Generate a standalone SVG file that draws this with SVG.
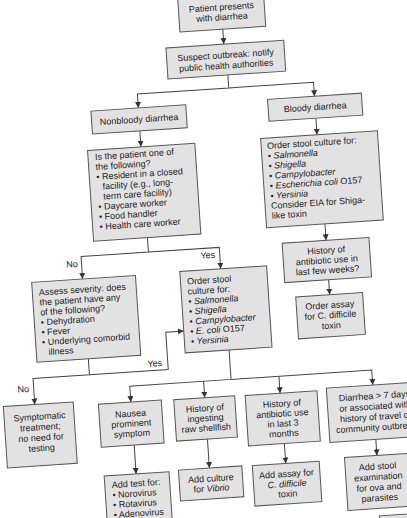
<svg xmlns="http://www.w3.org/2000/svg" width="407" height="518" viewBox="0 0 407 518">
<defs>
<style>
.box{fill:#e2e2e2;stroke:#555;stroke-width:1}
.t{font-family:'Liberation Sans',Arial,sans-serif;font-size:9px;fill:#222}
.c{text-anchor:middle}
.i{font-style:italic}
.conn path{fill:none;stroke:#444;stroke-width:1}
.arr{marker-end:url(#ah)}
</style>
<marker id="ah" markerWidth="6" markerHeight="6" refX="6" refY="3" orient="auto" markerUnits="userSpaceOnUse">
<path d="M0,0 L6,3 L0,6 z" fill="#333"/>
</marker>
</defs>
<rect x="0" y="0" width="407" height="518" fill="#fff"/>
<g transform="rotate(-3.8 203 259)">
<g class="conn">
<path class="arr" d="M238,31 V46"/>
<path class="arr" d="M240,77 V90 H148.5 V104"/>
<path class="arr" d="M240,90 H325 V104"/>
<path class="arr" d="M325,126 V142.5"/>
<path class="arr" d="M327,232 V248.5"/>
<path class="arr" d="M327,288 V303"/>
<path class="arr" d="M148.5,127 V143"/>
<path class="arr" d="M149,234 V248.5 H81.5 V271"/>
<path class="arr" d="M149,248.5 H220 V270"/>
<path class="arr" d="M82,351 V367 H25.5 V393"/>
<path class="arr" d="M82,367 H161 V329.5 H179"/>
<path class="arr" d="M223,351.5 V381 H121.5 V397"/>
<path class="arr" d="M223,381 H364 V396"/>
<path class="arr" d="M195.5,381 V397.5"/>
<path class="arr" d="M271,381 V398"/>
<path class="arr" d="M122,440 V469"/>
<path class="arr" d="M195.5,439 V468"/>
<path class="arr" d="M272,448.5 V468.5"/>
<path class="arr" d="M363.5,450.5 V466.5"/>
</g>
<g class="t c">
<text x="72" y="258.5">No</text>
<text x="208" y="258.5">Yes</text>
<text x="15" y="380">No</text>
<text x="148" y="363">Yes</text>
</g>
<g id="patient">
<rect class="box" x="195" y="-6" width="86" height="37"/>
<text class="t c" x="238" y="12">Patient presents</text>
<text class="t c" x="238" y="22">with diarrhea</text>
</g>
<g id="outbreak">
<rect class="box" x="180" y="46" width="118" height="31"/>
<text class="t c" x="239" y="60">Suspect outbreak: notify</text>
<text class="t c" x="239" y="70.5">public health authorities</text>
</g>
<g id="nonbloody">
<rect class="box" x="101" y="104" width="95" height="23"/>
<text class="t c" x="148.5" y="118.5">Nonbloody diarrhea</text>
</g>
<g id="bloody">
<rect class="box" x="278" y="104" width="94" height="22"/>
<text class="t c" x="325" y="118">Bloody diarrhea</text>
</g>
<g id="ispatient">
<rect class="box" x="95" y="143" width="107.5" height="91"/>
<text class="t" x="102" y="153">Is the patient one of</text>
<text class="t" x="102" y="163">the following?</text>
<text class="t" x="102" y="173">• Resident in a closed</text>
<text class="t" x="107.7" y="183">facility (e.g., long-</text>
<text class="t" x="107.7" y="193">term care facility)</text>
<text class="t" x="102" y="203">• Daycare worker</text>
<text class="t" x="102" y="213">• Food handler</text>
<text class="t" x="102" y="223">• Health care worker</text>
</g>
<g id="bloodyculture">
<rect class="box" x="268.5" y="142.5" width="117" height="89.5"/>
<text class="t" x="274.5" y="153.5">Order stool culture for:</text>
<text class="t" x="274.5" y="163.5">• <tspan class="i">Salmonella</tspan></text>
<text class="t" x="274.5" y="173.5">• <tspan class="i">Shigella</tspan></text>
<text class="t" x="274.5" y="183.5">• <tspan class="i">Campylobacter</tspan></text>
<text class="t" x="274.5" y="193.5">• <tspan class="i">Escherichia coli</tspan> O157</text>
<text class="t" x="274.5" y="203.5">• <tspan class="i">Yersinia</tspan></text>
<text class="t" x="274.5" y="213.5">Consider EIA for Shiga-</text>
<text class="t" x="274.5" y="223.5">like toxin</text>
</g>
<g id="fewweeks">
<rect class="box" x="283" y="248.5" width="87" height="39.5"/>
<text class="t c" x="326.5" y="261.5">History of</text>
<text class="t c" x="326.5" y="271.5">antibiotic use in</text>
<text class="t c" x="326.5" y="281.5">last few weeks?</text>
</g>
<g id="orderassay">
<rect class="box" x="293" y="303" width="67" height="42"/>
<text class="t c" x="326.5" y="316.5">Order assay</text>
<text class="t c" x="326.5" y="326.5">for C. difficile</text>
<text class="t c" x="326.5" y="337">toxin</text>
</g>
<g id="assess">
<rect class="box" x="30.5" y="271" width="104" height="80"/>
<text class="t" x="37" y="284.5">Assess severity: does</text>
<text class="t" x="37" y="294.5">the patient have any</text>
<text class="t" x="37" y="304.5">of the following?</text>
<text class="t" x="37" y="314.5">• Dehydration</text>
<text class="t" x="37" y="324.5">• Fever</text>
<text class="t" x="37" y="334.5">• Underlying comorbid</text>
<text class="t" x="42.7" y="344.5">illness</text>
</g>
<g id="midculture">
<rect class="box" x="179" y="270" width="87" height="81.5"/>
<text class="t" x="185.5" y="283.5">Order stool</text>
<text class="t" x="185.5" y="293.5">culture for:</text>
<text class="t" x="185.5" y="303.5">• <tspan class="i">Salmonella</tspan></text>
<text class="t" x="185.5" y="313.5">• <tspan class="i">Shigella</tspan></text>
<text class="t" x="185.5" y="323.5">• <tspan class="i">Campylobacter</tspan></text>
<text class="t" x="185.5" y="333.5">• <tspan class="i">E. coli</tspan> O157</text>
<text class="t" x="185.5" y="343.5">• <tspan class="i">Yersinia</tspan></text>
</g>
<g id="symptomatic">
<rect class="box" x="-6" y="393" width="70" height="61.5"/>
<text class="t c" x="29.5" y="408.5">Symptomatic</text>
<text class="t c" x="29.5" y="419">treatment;</text>
<text class="t c" x="29.5" y="429.5">no need for</text>
<text class="t c" x="29.5" y="440">testing</text>
</g>
<g id="nausea">
<rect class="box" x="89" y="397" width="63" height="43"/>
<text class="t c" x="120.5" y="411.5">Nausea</text>
<text class="t c" x="120.5" y="421.5">prominent</text>
<text class="t c" x="120.5" y="431.5">symptom</text>
</g>
<g id="shellfish">
<rect class="box" x="164.5" y="397.5" width="61" height="41.5"/>
<text class="t c" x="195" y="411">History of</text>
<text class="t c" x="195" y="421">ingesting</text>
<text class="t c" x="195" y="431">raw shellfish</text>
</g>
<g id="antibiotic3">
<rect class="box" x="236" y="398" width="72" height="50.5"/>
<text class="t c" x="272" y="411.5">History of</text>
<text class="t c" x="272" y="421.5">antibiotic use</text>
<text class="t c" x="272" y="431.5">in last 3</text>
<text class="t c" x="272" y="441.5">months</text>
</g>
<g id="diarrhea7">
<rect class="box" x="317.5" y="396" width="94" height="54.5"/>
<text class="t c" x="365" y="410">Diarrhea &gt; 7 days</text>
<text class="t c" x="365" y="420.5">or associated with</text>
<text class="t c" x="365" y="431">history of travel or</text>
<text class="t c" x="365" y="441.5">community outbreak</text>
</g>
<g id="addtest">
<rect class="box" x="90" y="469" width="65" height="60"/>
<text class="t" x="97" y="481.5">Add test for:</text>
<text class="t" x="97" y="491.5">• Norovirus</text>
<text class="t" x="97" y="501.5">• Rotavirus</text>
<text class="t" x="97" y="511.5">• Adenovirus</text>
</g>
<g id="addculture">
<rect class="box" x="164.5" y="468" width="63.5" height="31"/>
<text class="t c" x="196.3" y="481.5">Add culture</text>
<text class="t c" x="196.3" y="491.5">for <tspan class="i">Vibrio</tspan></text>
</g>
<g id="addassay">
<rect class="box" x="238.5" y="468.5" width="67" height="40.5"/>
<text class="t c" x="272" y="482">Add assay for</text>
<text class="t c i" x="272" y="492">C. difficile</text>
<text class="t c" x="272" y="502">toxin</text>
</g>
<g id="addstool">
<rect class="box" x="331" y="466.5" width="65" height="53"/>
<text class="t c" x="363.5" y="480.5">Add stool</text>
<text class="t c" x="363.5" y="491">examination</text>
<text class="t c" x="363.5" y="501.5">for ova and</text>
<text class="t c" x="363.5" y="512">parasites</text>
</g>
<g id="nextbox">
<rect class="box" x="362" y="527" width="60" height="40"/>
</g>
</g>
</svg>
